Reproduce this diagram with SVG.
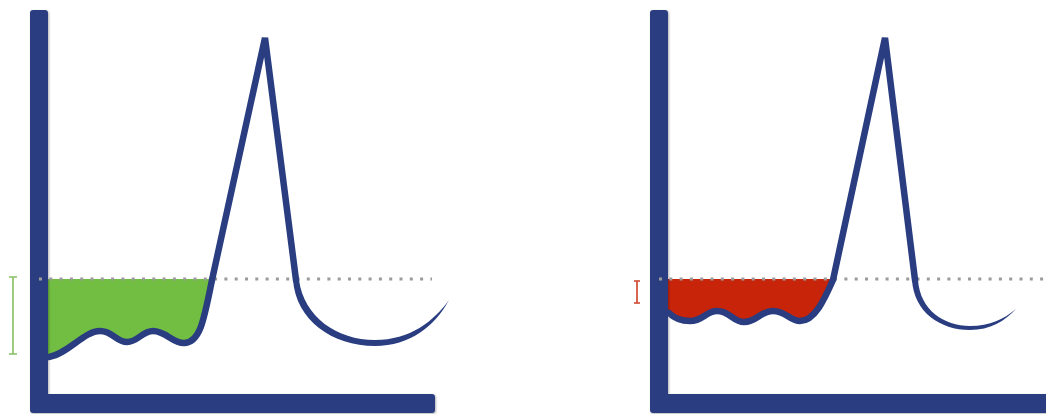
<svg xmlns="http://www.w3.org/2000/svg" width="1046" height="414" viewBox="0 0 1046 414">
  <defs>
    <filter id="sh" x="-5%" y="-5%" width="110%" height="110%">
      <feDropShadow dx="1" dy="1" stdDeviation="1" flood-color="#000" flood-opacity="0.3"/>
    </filter>
    <style>
      .axis { fill: #293d80; filter: url(#sh); }
      .curve { fill: none; stroke: #293d80; stroke-width: 6.5; stroke-linejoin: bevel; stroke-linecap: round; }
      .tail { fill: #293d80; }
      .dots { stroke: #9b9b9b; stroke-width: 3; stroke-dasharray: 3 7.3; fill: none; }
      .brG { stroke: #86c060; stroke-width: 1.6; fill: none; }
      .brR { stroke: #d0402a; stroke-width: 1.6; fill: none; }
    </style>
  </defs>
  <rect width="1046" height="414" fill="#ffffff"/>

  <g id="panel-left">
    <g id="fill-green">
      <path d="M48,279 L48,357 C68,354 84,331 100,331 C113,331 116,342 127,342 C138,342 142,331 153,331 C166,331 172,343 184,343 C200,343 204,320 212,279 Z" fill="#72be43"/>
    </g>
    <g id="axis-left">
      <path class="axis" d="M33,10 H45 Q48,10 48,13 V394 H432 Q435,394 435,397 V410 Q435,413 432,413 H33 Q30,413 30,410 V13 Q30,10 33,10 Z"/>
    </g>
    <g id="baseline-left">
      <line class="dots" x1="39" y1="279" x2="432" y2="279"/>
    </g>
    <g id="curve-left">
      <path class="curve" d="M49,357 C68,354 84,331 100,331 C113,331 116,342 127,342 C138,342 142,331 153,331 C166,331 172,343 184,343 C200,343 204,320 212,280 L265,38 L296,280"/>
      <path class="tail" d="M293,280 C296,320 332,346 375,346 C410,346 435,326 449,300 C434,321 410,340 375,340 C337,340 304,317 299,280 Z"/>
    </g>
    <g id="bracket-green">
      <path class="brG" d="M9,277 H17 M13,277 V354 M9,354 H17"/>
    </g>
  </g>

  <g id="panel-right">
    <g id="fill-red">
      <path d="M668,279 L668,313 C675,319 682,321 690,321 C703,321 706,311 717,311 C730,311 733,322 744,322 C757,322 760,311 773,311 C786,311 790,321 800,321 C815,321 825,298 833,279 Z" fill="#c8240a"/>
    </g>
    <g id="axis-right">
      <path class="axis" d="M653,10 H665 Q668,10 668,13 V394 H1050 V413 H653 Q650,413 650,410 V13 Q650,10 653,10 Z"/>
    </g>
    <g id="baseline-right">
      <line class="dots" x1="659" y1="279" x2="1046" y2="279"/>
    </g>
    <g id="curve-right">
      <path class="curve" d="M669,313 C675,319 682,321 690,321 C703,321 706,311 717,311 C730,311 733,322 744,322 C757,322 760,311 773,311 C786,311 790,321 800,321 C815,321 825,298 833,280 L885,38 L915,280"/>
      <path class="tail" d="M912,280 C914,312 940,330 970,330 C990,330 1005,321 1016,309 C1004,319 990,326 970,326 C944,326 920,310 918,280 Z"/>
    </g>
    <g id="bracket-red">
      <path class="brR" d="M634,281 H640 M637,281 V303 M634,303 H640"/>
    </g>
  </g>
</svg>
